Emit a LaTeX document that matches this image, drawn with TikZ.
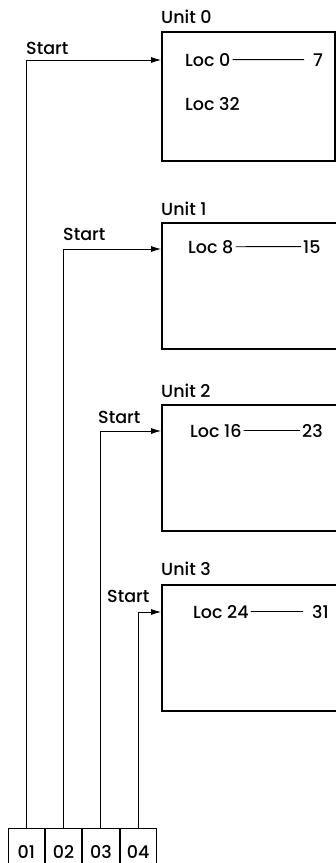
\documentclass[tikz,border=0pt]{standalone}
\usepackage{fontspec}
\setmainfont{Poppins}[UprightFont={Poppins Medium}]
\usetikzlibrary{arrows.meta,positioning,calc}
\tikzstyle{unitbox} = [rectangle, draw, line width=1.6pt, anchor=north west,
    minimum width=180pt, minimum height=126pt, inner sep=0pt]
\tikzstyle{cell} = [rectangle, draw, line width=0.8pt, minimum width=36.5pt,
    minimum height=48pt, inner sep=0pt, font=\fontsize{17.5}{20}\selectfont]
\tikzstyle{txt} = [inner sep=0pt, anchor=base west, font=\fontsize{17.5}{20}\selectfont]
\tikzstyle{loc} = [inner sep=2pt, anchor=base west, font=\fontsize{17.5}{20}\selectfont]
\tikzstyle{line} = [draw, line width=0.8pt, -{Latex[length=10pt,width=6pt]}]
\tikzstyle{locspan} = [draw, line width=0.8pt]

\begin{document}
\begin{tikzpicture}[x=1pt, y=-1pt]
\useasboundingbox (0,0) rectangle (336,863);
\clip (0,0) rectangle (336,863);

%% Place the four storage units
\node [unitbox, minimum width=173pt, minimum height=129pt] (unit0) at (161,31) {};
\node [unitbox] (unit1) at (161,222) {};
\node [unitbox] (unit2) at (161,404) {};
\node [unitbox] (unit3) at (161,584) {};
\node [txt] (name0) at ($(unit0.north west)+(0,-8)$) {Unit 0};
\node [txt] (name1) at ($(unit1.north west)+(0,-7)$) {Unit 1};
\node [txt] (name2) at ($(unit2.north west)+(0,-7)$) {Unit 2};
\node [txt] (name3) at ($(unit3.north west)+(0,-9)$) {Unit 3};

%% Locations held by each unit
\node [loc] (loc0) at (183,66) {Loc 0};
\node [loc] (last0) at (311,66) {7};
\node [loc] (loc32) at (183,110) {Loc 32};
\node [loc] (loc8) at (186,253) {Loc 8};
\node [loc] (last8) at (301,253) {15};
\node [loc] (loc16) at (188,437) {Loc 16};
\node [loc] (last16) at (300,437) {23};
\node [loc] (loc24) at (191,618) {Loc 24};
\node [loc] (last24) at (310,618) {31};
\path [locspan, shorten >=7pt] (loc0) -- (last0);
\path [locspan] (loc8) -- (last8);
\path [locspan] (loc16) -- (last16);
\path [locspan, shorten >=7pt] (loc24) -- (last24);

%% Selector cells at the bottom
\node [cell] (c1) at (26.25,852) {01};
\node [cell, right=0pt of c1] (c2) {02};
\node [cell, right=0pt of c2] (c3) {03};
\node [cell, right=0pt of c3] (c4) {04};

%% Start lines into the units
\coordinate (in0) at ($(unit0.north west)+(0,29)$);
\coordinate (in1) at ($(unit1.north west)+(0,27)$);
\coordinate (in2) at ($(unit2.north west)+(0,27)$);
\coordinate (in3) at ($(unit3.north west)+(0,28)$);
\path [line] (c1.north) |- (in0);
\path [line] (c2.north) |- (in1);
\path [line] (c3.north) |- (in2);
\path [line] (c4.north) |- (in3);
\node [txt] (start0) at (26,54) {Start};
\node [txt] (start1) at (63,240) {Start};
\node [txt] (start2) at (98,423) {Start};
\node [txt] (start3) at (107,602) {Start};
\end{tikzpicture}
\end{document}
